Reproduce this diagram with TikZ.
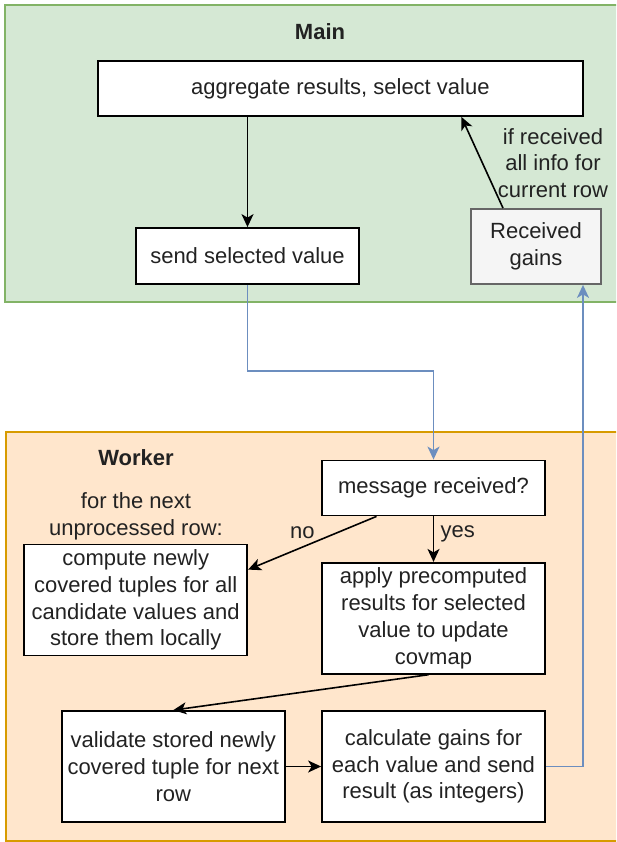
\documentclass[tikz,border=0pt]{standalone}
\usepackage{fontspec}
\setmainfont{Liberation Sans}
\usetikzlibrary{arrows.meta,positioning}
\definecolor{mainfill}{HTML}{D5E8D4}
\definecolor{mainline}{HTML}{82B366}
\definecolor{workfill}{HTML}{FFE6CC}
\definecolor{workline}{HTML}{D79B00}
\definecolor{gainfill}{HTML}{F5F5F5}
\definecolor{gainline}{HTML}{666666}
\definecolor{msgblue}{HTML}{6C8EBF}
\definecolor{txtgray}{HTML}{222222}

\begin{document}
\begin{tikzpicture}[x=1pt,y=-1pt,
    every node/.style={font=\fontsize{22}{26.7}\selectfont,text=txtgray},
    title/.style={font=\fontsize{22}{26.7}\selectfont\bfseries},
    box/.style={draw,fill=white,line width=1.8pt,align=center,inner sep=2pt,
                minimum width=223pt},
    flow/.style={-{Stealth[length=13pt,width=12pt,inset=3.5pt]},line width=1.6pt},
    msg/.style={flow,draw=msgblue,-{Stealth[length=13pt,width=12pt,inset=3.5pt,msgblue]}}]
            \clip (0,0) rectangle (616,842);

            % panels
            \filldraw [fill=mainfill,draw=mainline,line width=1.8pt] (5,5) rectangle (630,302);
            \filldraw [fill=workfill,draw=workline,line width=1.8pt] (6,432) rectangle (630,841);

            % main side
            \node [title] (maintitle) at (320,32) {Main};
            \node [box,minimum width=485pt,minimum height=55pt] (aggregate) at (340.4,88.5)
                {aggregate results, select value};
            \node [box,minimum height=56pt] (send) at (247.5,256) {send selected value};
            \node [box,fill=gainfill,draw=gainline,minimum width=130pt,minimum height=75pt]
                (received) at (536,246.5) {Received\\gains};
            \node [align=center] (allinfo) at (553,163) {if received\\all info for\\current row};

            % worker side
            \node [title] (workertitle) at (136,458) {Worker};
            \node [align=center] (nextrow) at (136,516) {for the next\\unprocessed row:};
            \node [box,minimum height=55pt] (message) at (433.5,488) {message received?};
            \node [box,minimum height=111pt] (compute) at (135.7,600)
                {compute newly\\covered tuples for all\\candidate values and\\store them locally};
            \node [box,minimum height=111pt] (apply) at (433.5,618.3)
                {apply precomputed\\results for selected\\value to update\\covmap};
            \node [box,minimum height=111pt] (validate) at (173.3,766.5)
                {validate stored newly\\covered tuple for next\\row};
            \node [box,minimum height=111pt] (calculate) at (433.5,766.5)
                {calculate gains for\\each value and send\\result (as integers)};
            \coordinate (bend) at (340,371);

            % connectors
            \draw [flow] (send.north |- aggregate.south) -- (send.north);
            \draw [flow] ([xshift=-33pt]received.north) -- ([xshift=121pt]aggregate.south);
            \draw [msg] (send.south) |- (bend) -| (message.north);
            \draw [flow] ([xshift=-57pt]message.south) -- ([yshift=-26pt]compute.north east)
                node [midway,xshift=-10pt,yshift=10pt] {no};
            \draw [flow] (message.south) -- (apply.north)
                node [midway,right=3pt,yshift=5pt] {yes};
            \draw [flow] ([xshift=-5pt]apply.south) -- (validate.north);
            \draw [flow] (validate.east) -- (calculate.west);
            \draw [msg] (calculate.east) -| ([xshift=47pt]received.south);
        \end{tikzpicture}
\end{document}
